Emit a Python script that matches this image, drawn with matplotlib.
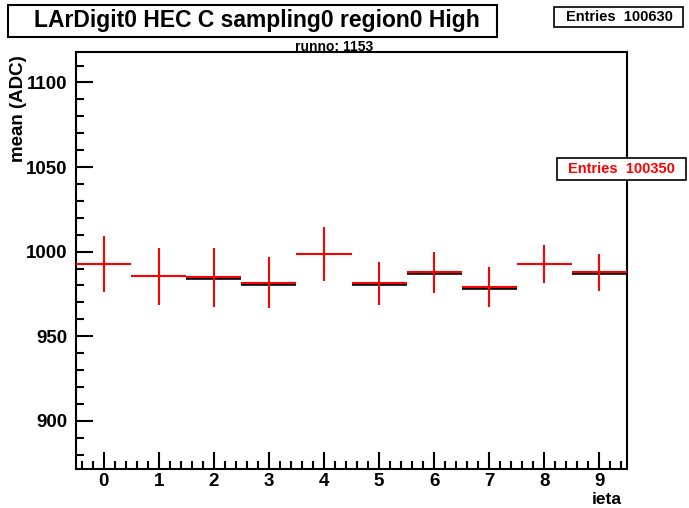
import numpy as np
import matplotlib
matplotlib.use("Agg")
import matplotlib.pyplot as plt
from matplotlib.patches import Rectangle
from matplotlib.ticker import MultipleLocator

plt.rcParams['font.family'] = ['Liberation Sans', 'DejaVu Sans']
plt.rcParams['font.weight'] = 'bold'

ieta = [0, 1, 2, 3, 4, 5, 6, 7, 8, 9]
red_mean = [992.7, 985.4, 984.8, 981.7, 998.6, 981.3, 987.8, 979.1, 992.7, 987.8]
red_err = [16.4, 17.0, 17.6, 15.3, 16.0, 12.8, 12.2, 11.7, 11.0, 11.0]
black_mean = [np.nan, np.nan, 984.2, 981.1, np.nan, 980.7, 987.2, 978.5, np.nan, 987.2]

title = "LArDigit0 HEC C sampling0 region0 High"
subtitle = "runno: 1153"
entries_black = "Entries  100630"
entries_red = "Entries  100350"

fig = plt.figure(figsize=(6.89, 5.08), dpi=100)
W, H = 689, 508
ax = fig.add_axes([76 / W, 1 - 469 / H, (627 - 76) / W, (469 - 52) / H])

x = np.array(ieta, dtype=float)
ax.hlines(black_mean, x - 0.5, x + 0.5, colors='black', linewidth=2.6, zorder=2)
ax.errorbar(x, red_mean, xerr=0.5, yerr=red_err, fmt='none', ecolor='red',
            elinewidth=1.5, capsize=0, zorder=3)

ax.set_xlim(-0.5, 9.5)
ax.set_ylim(871.5, 1118)
ax.xaxis.set_major_locator(MultipleLocator(1))
ax.xaxis.set_minor_locator(MultipleLocator(0.2))
ax.yaxis.set_major_locator(MultipleLocator(50))
ax.yaxis.set_minor_locator(MultipleLocator(10))
ax.tick_params(which='both', direction='in', top=False, right=False, width=1.5,
               labelsize=13.5)
ax.tick_params(which='major', length=12)
ax.tick_params(which='minor', length=6)
ax.tick_params(axis='y', pad=6)
ax.tick_params(axis='x', pad=3)
for lab in ax.get_xticklabels() + ax.get_yticklabels():
    lab.set_fontweight('bold')
for s in ax.spines.values():
    s.set_linewidth(1.5)

fig.text(19 / W, 1 - 55 / H, "mean (ADC)", rotation=90, ha='center', va='top',
         fontsize=13.5, fontweight='bold')
fig.text(622 / W, 1 - 499 / H, "ieta", ha='right', va='center',
         fontsize=12.5, fontweight='bold')

# title box
fig.add_artist(Rectangle((8 / W, 1 - 37 / H), (497 - 8) / W, 32 / H,
                         transform=fig.transFigure, fill=True, facecolor='white',
                         edgecolor='black', linewidth=1.5))
fig.text(257 / W, 1 - 21 / H, title, ha='center', va='center', fontsize=16.5,
         fontweight='bold')
fig.text(334 / W, 1 - 46.5 / H, subtitle, ha='center', va='center', fontsize=10,
         fontweight='bold')

# entries boxes
fig.add_artist(Rectangle((554 / W, 1 - 27 / H), (683 - 554) / W, 20 / H,
                         transform=fig.transFigure, facecolor='white',
                         edgecolor='black', linewidth=1.2))
fig.text(619.5 / W, 1 - 17 / H, entries_black, ha='center', va='center',
         fontsize=10.5, fontweight='bold')
fig.add_artist(Rectangle((557 / W, 1 - 180 / H), (686 - 557) / W, 22 / H,
                         transform=fig.transFigure, facecolor='white',
                         edgecolor='black', linewidth=1.2, zorder=5))
fig.text(621.5 / W, 1 - 169 / H, entries_red, ha='center', va='center',
         fontsize=10.5, fontweight='bold', color='red', zorder=6)

fig.savefig("out.png", dpi=100)
